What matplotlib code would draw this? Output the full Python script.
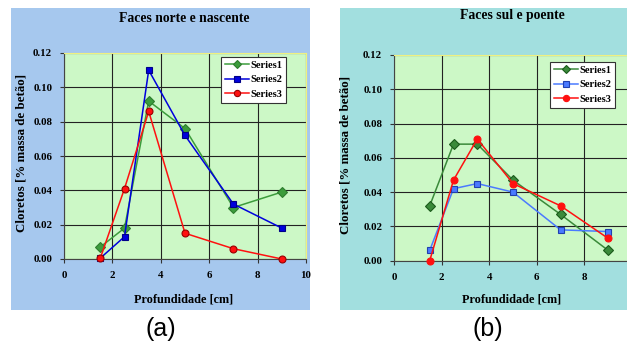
import matplotlib
matplotlib.use("Agg")
import matplotlib.pyplot as plt
from matplotlib.patches import Rectangle

depth = [1.5, 2.5, 3.5, 5, 7, 9]
a_s1 = [0.007, 0.018, 0.092, 0.076, 0.030, 0.039]
a_s2 = [0.0005, 0.013, 0.110, 0.072, 0.032, 0.018]
a_s3 = [0.0005, 0.041, 0.086, 0.015, 0.006, 0.000]
b_s1 = [0.032, 0.068, 0.068, 0.047, 0.027, 0.006]
b_s2 = [0.006, 0.042, 0.045, 0.040, 0.018, 0.017]
b_s3 = [0.000, 0.047, 0.071, 0.045, 0.032, 0.013]
series_names = ["Series1", "Series2", "Series3"]
xticks = [0, 2, 4, 6, 8, 10]
yticks = [0.00, 0.02, 0.04, 0.06, 0.08, 0.10, 0.12]

W, H = 627, 345
fig = plt.figure(figsize=(W / 100, H / 100), dpi=100)
fig.patch.set_facecolor("white")

SERIF = ["Liberation Serif", "DejaVu Serif"]


def px_rect(x0, y0, x1, y1):
    return [x0 / W, 1 - y1 / H, (x1 - x0) / W, (y1 - y0) / H]


# panel backgrounds
fig.patches.append(Rectangle((11 / W, 1 - 310 / H), (310 - 11) / W, (310 - 8) / H,
                             transform=fig.transFigure, facecolor="#a6c8ee", edgecolor="none", zorder=-5))
fig.patches.append(Rectangle((340 / W, 1 - 310 / H), (627 - 340) / W, (310 - 8) / H,
                             transform=fig.transFigure, facecolor="#a2dfdf", edgecolor="none", zorder=-5))


def panel(rect, data, colors, edges, title, title_xy, ylab_xy, leg_anchor):
    ax = fig.add_axes(rect)
    ax.set_zorder(2)
    ax.set_facecolor("#ccf8c6")
    markers = ["D", "s", "o"]
    sizes = [5, 5, 5]
    for y, c, e, m, s, n in zip(data, colors, edges, markers, sizes, series_names):
        ax.plot(depth, y, color=c, marker=m, markersize=s, markerfacecolor=c,
                markeredgecolor=e, markeredgewidth=0.8, lw=1.1, label=n, clip_on=False, zorder=3)
    ax.set_xlim(0, 10)
    ax.set_ylim(0, 0.12)
    ax.set_xticks(xticks)
    ax.set_yticks(yticks)
    ax.set_yticklabels([f"{v:.2f}" for v in yticks])
    ax.grid(True, color="#222222", lw=0.8)
    ax.set_axisbelow(True)
    for t in ax.get_xticklabels() + ax.get_yticklabels():
        t.set_fontfamily(SERIF)
        t.set_fontweight("bold")
        t.set_fontsize(7.8)
    ax.tick_params(direction="out", length=3, width=0.8, color="#333333", pad=5.5)
    ax.spines["top"].set_color("#f0f080")
    ax.spines["right"].set_color("#f0f080")
    ax.spines["left"].set_color("#444444")
    ax.spines["bottom"].set_color("#444444")
    leg = ax.legend(loc="upper left", bbox_to_anchor=leg_anchor, bbox_transform=fig.transFigure,
                    prop={"family": SERIF, "weight": "bold", "size": 7.5},
                    frameon=True, fancybox=False, edgecolor="#333333", framealpha=1,
                    borderaxespad=0, handlelength=2.3, borderpad=0.35, labelspacing=0.5,
                    handletextpad=0.15, markerscale=0.9)
    leg.get_frame().set_linewidth(0.8)
    fig.text(title_xy[0] / W, 1 - title_xy[1] / H, title, ha="center", va="center",
             family=SERIF, weight="bold", fontsize=9.8)
    fig.text(ylab_xy[0] / W, 1 - ylab_xy[1] / H, "Cloretos [% massa de betão]",
             rotation=90, ha="center", va="center", family=SERIF, weight="bold", fontsize=9.3)
    return ax


ax1 = panel(px_rect(64, 53, 306, 259), [a_s1, a_s2, a_s3],
            ["#3c9c3c", "#0000dd", "#ff1010"], ["#2e7d2e", "#000088", "#990000"],
            "Faces norte e nascente", (184, 18), (22, 153), (221 / W, 1 - 57 / H))
ax2 = panel(px_rect(394, 55, 632, 260.7), [b_s1, b_s2, b_s3],
            ["#3a8a3a", "#4a7aff", "#ff1010"], ["#1a5a1a", "#2040b0", "#ff1010"],
            "Faces sul e poente", (512, 16), (346, 155), (550 / W, 1 - 62 / H))

fig.text(184 / W, 1 - 300 / H, "Profundidade [cm]", ha="center", va="center",
         family=SERIF, weight="bold", fontsize=8.8)
fig.text(512 / W, 1 - 300 / H, "Profundidade [cm]", ha="center", va="center",
         family=SERIF, weight="bold", fontsize=8.8)
fig.text(161 / W, 1 - 329 / H, "(a)", ha="center", va="center", family="Liberation Sans", fontsize=18)
fig.text(488 / W, 1 - 329 / H, "(b)", ha="center", va="center", family="Liberation Sans", fontsize=18)

fig.savefig("out.png", dpi=100)
